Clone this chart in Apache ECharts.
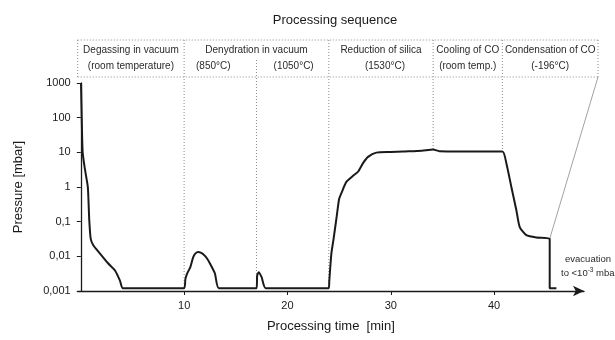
<!DOCTYPE html>
<html>
<head>
<meta charset="utf-8">
<script src="https://cdn.jsdelivr.net/npm/echarts@6/dist/echarts.min.js"></script>
<style>
  html, body { margin: 0; padding: 0; background: #fff; }
  #chart { width: 615px; height: 340px; }
</style>
</head>
<body>
<div id="chart"></div>
<script>
const timeMin = [
  0.02, 0.09, 0.18, 0.41, 0.68, 0.82, 0.96, 1.21, 1.86, 2.66, 3.31, 3.79, 4.08,
  10.0, 10.12, 10.3, 10.6, 10.88, 11.1, 11.36, 11.6, 11.85, 12.2, 12.5, 12.98, 13.37,
  17.01, 17.07, 17.23, 17.5, 17.91,
  24.0, 24.05, 24.25, 24.45, 24.75, 25.0, 25.25, 25.7, 26.35, 26.85, 27.3, 27.8, 28.6,
  30.0, 31.2, 33.0, 34.1, 34.7, 37.0, 40.8,
  41.19, 41.67, 42.16, 42.48, 43.12, 44.09, 45.38, 45.38, 46.03
];
const pressureMbar = [
  1000, 100, 10, 3.1, 1.0, 0.11, 0.032, 0.021, 0.012, 0.0062, 0.0039, 0.002, 0.0012,
  0.0012, 0.0022, 0.0032, 0.0049, 0.0095, 0.0122, 0.0133, 0.0128, 0.0115, 0.0088, 0.0062, 0.0032, 0.0012,
  0.0012, 0.0028, 0.0035, 0.0025, 0.0012,
  0.0012, 0.002, 0.012, 0.03, 0.13, 0.45, 0.7, 1.4, 2.1, 2.8, 4.8, 7.4, 9.8,
  10.2, 10.6, 11.2, 12.0, 10.8, 10.6, 10.6,
  4.8, 1.0, 0.21, 0.07, 0.041, 0.035, 0.032, 0.0012, 0.0012
];
const xTicks = [10, 20, 30, 40];
const yTicks = ['0,001', '0,01', '0,1', '1', '10', '100', '1000'];

// phases: boundaries in minutes, and where each divider meets the curve
const phaseBounds = [10, 24, 34.1, 40.8];
const phaseBoundP = [0.0012, 0.0012, 12.0, 10.6];
const subBound = 17.0;
const subBoundP = 0.0012;
const phaseStart = -0.3;
const phaseEnd = 48.7;
const phaseNames = ['Degassing in vacuum', 'Denydration in vacuum', 'Reduction of silica', 'Cooling of CO', 'Condensation of CO'];
const phaseTemps = ['(room temperature)', null, '(1530°C)', '(room temp.)', '(-196°C)'];
const dehydTemps = ['(850°C)', '(1050°C)'];
const condEnd = [45.38, 0.032];

const chart = echarts.init(document.getElementById('chart'));
const FONT = '"Liberation Sans", Arial, sans-serif';
const INK = '#1a1a1a';

chart.setOption({
  animation: false,
  backgroundColor: '#fff',
  title: {
    text: 'Processing sequence',
    left: 330,
    top: 9,
    textAlign: 'center',
    textStyle: { fontFamily: FONT, fontSize: 13, fontWeight: 'normal', color: INK },
  },
  grid: { left: 77.7, right: 31, top: 83, bottom: 49 },
  xAxis: {
    type: 'value',
    min: -0.3,
    max: 48.7,
    name: 'Processing time  [min]',
    nameLocation: 'middle',
    nameGap: 29,
    nameTextStyle: { fontFamily: FONT, fontSize: 13, color: INK },
    splitLine: { show: false },
    axisLine: { lineStyle: { color: INK, width: 1.3 }, symbol: ['none', 'arrow'], symbolSize: [8, 11] },
    axisTick: { customValues: xTicks, length: 4, inside: false, lineStyle: { color: INK } },
    axisLabel: { customValues: xTicks, margin: 9, fontFamily: FONT, fontSize: 11, color: INK },
  },
  yAxis: {
    type: 'log',
    logBase: 10,
    min: 0.001,
    max: 1000,
    name: 'Pressure [mbar]',
    nameLocation: 'middle',
    nameGap: 53,
    nameTextStyle: { fontFamily: FONT, fontSize: 13, color: INK },
    splitLine: { show: false },
    axisLine: { show: true, lineStyle: { color: INK, width: 1.3 } },
    axisTick: { length: 4, lineStyle: { color: INK } },
    axisLabel: {
      margin: 7,
      fontFamily: FONT,
      fontSize: 11,
      color: INK,
      formatter: (v) => {
        const i = Math.round(Math.log10(v)) + 3;
        return yTicks[i] || '';
      },
    },
  },
  series: [
    {
      type: 'line',
      data: timeMin.map((t, i) => [t, pressureMbar[i]]),
      showSymbol: false,
      smooth: 0.2,
      lineStyle: { color: INK, width: 2 },
    },
  ],
});

const px = (t, p) => chart.convertToPixel({ gridIndex: 0 }, [t, p]);
const headTop = 40, headMid = 58, headBot = 77;
const dotted = { stroke: '#8a8a8a', lineWidth: 1, lineDash: [1, 2] };
const g = [];
const xLeft = px(phaseStart, 1)[0];
const xRight = px(phaseEnd, 1)[0] + 14;

// header frame
g.push({ type: 'line', shape: { x1: xLeft, y1: headTop, x2: xRight, y2: headTop }, style: dotted, silent: true });
g.push({ type: 'line', shape: { x1: xLeft, y1: headBot, x2: xRight, y2: headBot }, style: dotted, silent: true });
g.push({ type: 'line', shape: { x1: xLeft, y1: headTop, x2: xLeft, y2: headBot }, style: dotted, silent: true });
g.push({ type: 'line', shape: { x1: xRight, y1: headTop, x2: xRight, y2: headBot }, style: dotted, silent: true });

// phase dividers, running down to the curve
phaseBounds.forEach((t, i) => {
  const p = px(t, phaseBoundP[i]);
  g.push({ type: 'line', shape: { x1: p[0], y1: headTop, x2: p[0], y2: p[1] }, style: dotted, silent: true });
});
const sb = px(subBound, subBoundP);
g.push({ type: 'line', shape: { x1: sb[0], y1: headMid + 2, x2: sb[0], y2: sb[1] }, style: dotted, silent: true });

// slanted leader to end of condensation
const ce = px(condEnd[0], condEnd[1]);
g.push({ type: 'line', shape: { x1: xRight, y1: headBot, x2: ce[0], y2: ce[1] }, style: { stroke: '#8a8a8a', lineWidth: 0.8 }, silent: true });

// header texts
const edges = [xLeft].concat(phaseBounds.map((t) => px(t, 1)[0])).concat([xRight]);
const txt = (x, y, s) => ({
  type: 'text', x: x, y: y, silent: true,
  style: { text: s, fill: '#2a2a2a', font: '10px ' + FONT, textAlign: 'center', textVerticalAlign: 'middle' },
});
phaseNames.forEach((n, i) => {
  const cx = (edges[i] + edges[i + 1]) / 2;
  g.push(txt(cx, 50, n));
  if (phaseTemps[i]) g.push(txt(cx + (i === 2 ? 4 : 0), 66, phaseTemps[i]));
});
g.push(txt((edges[1] + sb[0]) / 2 - 7, 66, dehydTemps[0]));
g.push(txt((sb[0] + edges[2]) / 2 + 1, 66, dehydTemps[1]));

// evacuation note
g.push({
  type: 'text', x: 588, y: 259, silent: true,
  style: { text: 'evacuation', fill: '#2a2a2a', font: '9.5px ' + FONT, textAlign: 'center', textVerticalAlign: 'middle' },
});
g.push({
  type: 'text', x: 561, y: 273, silent: true,
  style: {
    text: '{a|to <10}{s|-3}{a| mbar}',
    textVerticalAlign: 'middle',
    rich: {
      a: { fill: '#2a2a2a', font: '9.5px ' + FONT },
      s: { fill: '#2a2a2a', font: '6.5px ' + FONT, padding: [0, 0, 6, 0] },
    },
  },
});

chart.setOption({ graphic: g });
</script>
</body>
</html>
